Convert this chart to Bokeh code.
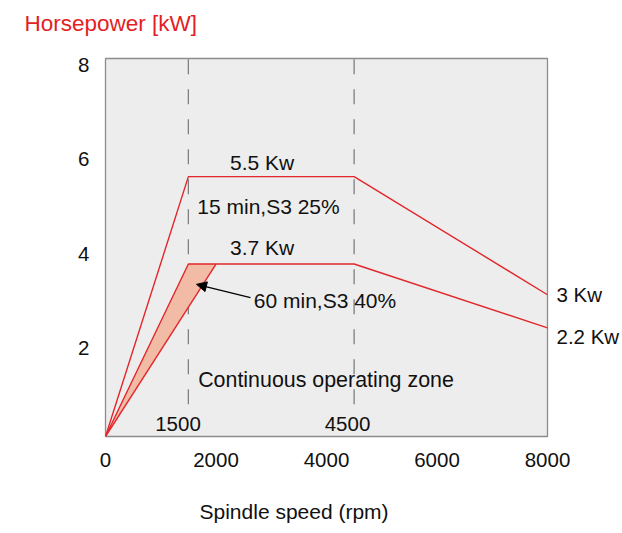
from bokeh.plotting import figure
from bokeh.models import Range1d, Label, Arrow, NormalHead, FixedTicker, LinearAxis, Title
from bokeh.embed import file_html
from bokeh.resources import INLINE

# ---- data ----
speed_pts = [0, 1500, 4500, 8000]            # rpm
power_s3_25 = [0, 5.5, 5.5, 3.0]             # kW, 15 min S3 25%
power_s3_40 = [0, 3.65, 3.65, 2.3]           # kW, 60 min S3 40%
cont_edge_x = [0, 2000]                      # continuous zone edge
cont_edge_y = [0, 3.65]
shade_x = [0, 1500, 2000]                    # shaded wedge
shade_y = [0, 3.65, 3.65]
marker_speeds = [1500, 4500]
marker_labels = ["1500", "4500"]
x_ticks = [0, 2000, 4000, 6000, 8000]
y_ticks = [2, 4, 6, 8]
end_labels = {3.0: "3 Kw", 2.116: "2.2 Kw"}

FONT = "Liberation Sans"
RED = "#e3262b"
INK = "#111111"

p = figure(width=622, height=533, output_backend="svg", toolbar_location=None,
           x_range=Range1d(0, 8000), y_range=Range1d(0, 8), y_axis_location=None,
           min_border_left=105, min_border_right=75, min_border_top=58, min_border_bottom=97,
           background_fill_color="#ededed", border_fill_color="white",
           outline_line_color="#8c8c8c", outline_line_width=1.3)

p.title.text = "Horsepower [kW]\n"
p.title.align = "left"
p.title.offset = -81
p.title.standoff = 6
p.title.text_line_height = 0.8
p.title.text_font = FONT
p.title.text_font_size = "22.5px"
p.title.text_font_style = "normal"
p.title.text_color = "#e31e24"

p.extra_y_ranges = {"ylab": Range1d(0.132, 8.132)}
p.add_layout(LinearAxis(y_range_name="ylab"), "left")
p.add_layout(LinearAxis(ticker=FixedTicker(ticks=list(end_labels.keys())),
                        major_label_overrides=end_labels), "right")

p.grid.visible = False
for ax in p.xaxis + p.yaxis:
    ax.axis_line_color = None
    ax.major_tick_line_color = None
    ax.minor_tick_line_color = None
    ax.major_tick_out = 0
    ax.major_tick_in = 0
    ax.major_label_text_font = FONT
    ax.major_label_text_font_size = "20.5px"
    ax.major_label_text_color = INK
p.xaxis.ticker = FixedTicker(ticks=x_ticks)
p.yaxis[0].ticker = FixedTicker(ticks=y_ticks)
p.xaxis.major_label_standoff = 16
p.yaxis[0].major_label_standoff = 16
p.yaxis[1].major_label_standoff = 9

p.add_layout(Title(text="\nSpindle speed (rpm)", align="left", offset=94, standoff=4,
                   text_line_height=1.18,
                   text_font=FONT, text_font_size="21px", text_font_style="normal",
                   text_color=INK), "below")

# dashed markers
p.segment(x0=marker_speeds, y0=[0.68] * 2, x1=marker_speeds, y1=[8] * 2,
          line_color="#7f7f7f", line_width=1.3, line_dash="15 15")

# shaded wedge
p.patch(shade_x, shade_y, fill_color="#f2bba5", line_color=None)

# curves
p.line(speed_pts, power_s3_25, line_color=RED, line_width=1.4)
p.line(speed_pts, power_s3_40, line_color=RED, line_width=1.4)
p.line(cont_edge_x, cont_edge_y, line_color=RED, line_width=1.4)

def lab(x, y, text, align="center", size="21px"):
    p.add_layout(Label(x=x, y=y, text=text, text_align=align, text_baseline="middle",
                       text_font=FONT, text_font_size=size, text_color=INK))

lab(2836, 5.795, "5.5 Kw")
lab(2950, 4.86, "15 min,S3 25%")
lab(2836, 3.995, "3.7 Kw")
lab(2684, 2.88, "60 min,S3 40%", align="left")
lab(3991, 1.19, "Continuous operating zone", size="21.4px")
for xs, t in zip([1312, 4380], marker_labels):
    lab(xs, 0.257, t, size="20.5px")

p.add_layout(Arrow(end=NormalHead(size=10, fill_color="black", line_color="black"),
                   x_start=2624, y_start=2.94, x_end=1647, y_end=3.22,
                   line_color="black", line_width=1.2))

open("out.html", "w").write(file_html(p, INLINE))
